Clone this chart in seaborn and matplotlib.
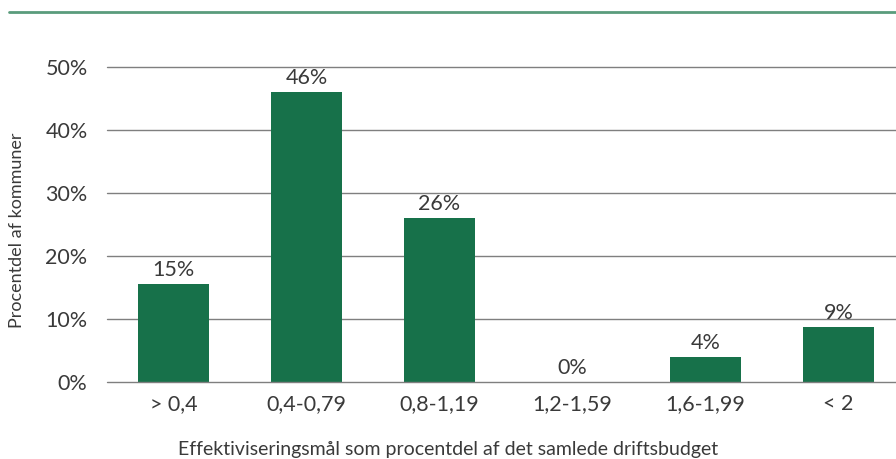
import matplotlib
matplotlib.use("Agg")
import matplotlib.pyplot as plt
import seaborn as sns
import pandas as pd
from matplotlib.lines import Line2D

categories = ["> 0,4", "0,4-0,79", "0,8-1,19", "1,2-1,59", "1,6-1,99", "< 2"]
values = [15.5, 46, 26, 0, 4, 8.7]
labels = ["15%", "46%", "26%", "0%", "4%", "9%"]
yticks = [0, 10, 20, 30, 40, 50]
ytick_labels = ["0%", "10%", "20%", "30%", "40%", "50%"]

df = pd.DataFrame({"cat": categories, "val": values})

sns.set_theme(style="white")
plt.rcParams["font.family"] = ["Lato", "DejaVu Sans"]

W, H = 896, 459
fig = plt.figure(figsize=(W / 100, H / 100), dpi=100)
left, right = 107, 905
top, bottom = 67, 382
ax = fig.add_axes([left / W, 1 - bottom / H, (right - left) / W, (bottom - top) / H])

bar_color = "#17714a"
text_color = "#3a3a3a"
sns.barplot(data=df, x="cat", y="val", color=bar_color, width=0.54, ax=ax,
            saturation=1, zorder=2, linewidth=0)

ax.set_ylim(0, 50)
ax.set_xlim(-0.5, 5.5)
ax.set_yticks(yticks)
ax.set_yticklabels(ytick_labels)
for s in ax.spines.values():
    s.set_visible(False)
for y in yticks:
    ax.axhline(y, color="#7f7f7f", linewidth=1.0, zorder=1 if y > 0 else 3,
               clip_on=False)
ax.tick_params(axis="both", length=0, labelsize=15.5, colors=text_color)
ax.tick_params(axis="y", pad=14)
ax.tick_params(axis="x", pad=9)

ax.set_xlabel("Effektiviseringsmål som procentdel af det samlede driftsbudget",
              fontsize=14, color=text_color)
ax.set_ylabel("Procentdel af kommuner", fontsize=13, color=text_color)
ax.xaxis.set_label_coords((448 - left) / (right - left), (bottom - 449) / (bottom - top))
ax.xaxis.label.set_va("center")
ax.yaxis.set_label_coords((17 - left) / (right - left), (bottom - 230) / (bottom - top))
ax.yaxis.label.set_va("center")

for i, (v, t) in enumerate(zip(values, labels)):
    ax.annotate(t, (i, v), xytext=(0, 3), textcoords="offset points",
                ha="center", va="bottom", fontsize=15.5, color=text_color,
                clip_on=False)

fig.add_artist(Line2D([9 / W, 1], [1 - 11.5 / H, 1 - 11.5 / H],
                      transform=fig.transFigure, color="#5a9c7c", linewidth=2))

fig.savefig("out.png", dpi=100)
